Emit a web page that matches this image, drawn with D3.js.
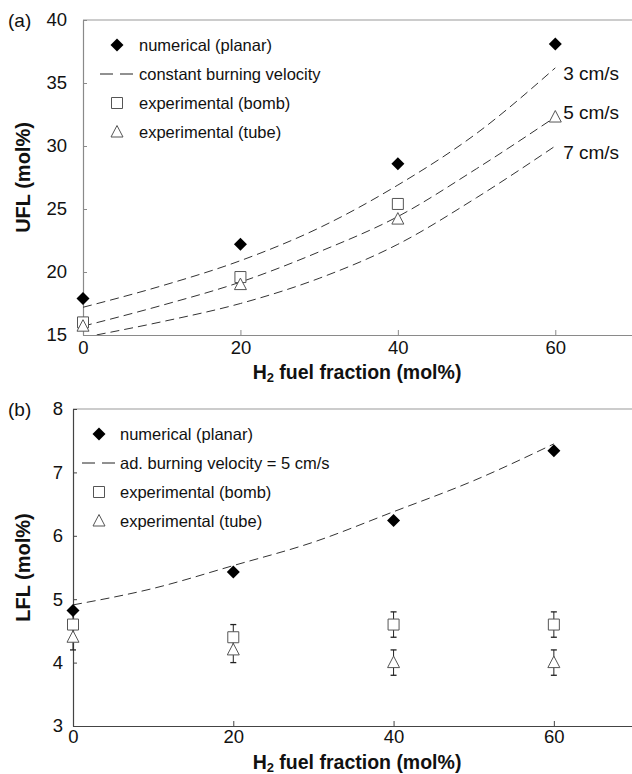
<!DOCTYPE html>
<html><head><meta charset="utf-8">
<script src="https://cdn.jsdelivr.net/npm/d3@7"></script>
<style>body{margin:0;background:#fff}svg{display:block}</style>
</head><body>
<svg id="c" width="632" height="774"></svg>
<script>
// ---------- data ----------
const xTicks = [0, 20, 40, 60];
const uflTicks = [15, 20, 25, 30, 35, 40];
const lflTicks = [3, 4, 5, 6, 7, 8];

const xPoints = [0, 20, 40, 60];
// panel (a) UFL
const uflNumerical = [17.9, 22.2, 28.6, 38.1];
const uflBombX = [0, 20, 40];
const uflBomb = [16.0, 19.6, 25.4];
const uflTube = [15.7, 19.0, 24.2, 32.3];
const curveX = [0, 10, 20, 30, 40, 50, 60];
const ufl3 = [17.2, 18.9, 20.9, 23.5, 26.9, 31.0, 36.2];
const ufl5 = [15.7, 17.35, 19.2, 21.6, 24.4, 28.2, 32.3];
const ufl7 = [14.8, 16.05, 17.5, 19.5, 22.2, 25.9, 30.0];
const curveLabels = ["3 cm/s", "5 cm/s", "7 cm/s"];
const curveLabelAt = [35.8, 32.7, 29.5];
// panel (b) LFL
const lflNumerical = [4.82, 5.43, 6.24, 7.34];
const lflCurve = [4.91, 5.17, 5.53, 5.9, 6.38, 6.87, 7.45];
const lflBomb = [4.6, 4.4, 4.6, 4.6];
const lflBombErr = [0.2, 0.2, 0.2, 0.2];
const lflTube = [4.4, 4.2, 4.0, 4.0];
const lflTubeErr = [0.2, 0.2, 0.2, 0.2];

const legendA = ["numerical (planar)", "constant burning velocity", "experimental (bomb)", "experimental (tube)"];
const legendB = ["numerical (planar)", "ad. burning velocity = 5 cm/s", "experimental (bomb)", "experimental (tube)"];

// ---------- drawing ----------
const svg = d3.select("#c");
const FONT = "Liberation Sans, Arial, Helvetica, sans-serif";
const diamond = "M0,-6.5L6.5,0L0,6.5L-6.5,0Z";
const square = "M-5.5,-5.5H5.5V5.5H-5.5Z";
const triangle = "M0,-6.5L6,5L-6,5Z";

function panel(o) {
  const g = svg.append("g");
  const x = d3.scaleLinear().domain([0, 70]).range([o.left, 634]);
  const y = d3.scaleLinear().domain(o.ydom).range([o.bottom, o.top]);
  const clipId = "clip" + o.id;
  svg.append("clipPath").attr("id", clipId).append("rect")
    .attr("x", o.left).attr("y", o.top).attr("width", 634 - o.left).attr("height", o.bottom - o.top);

  // top frame line
  g.append("line").attr("x1", o.left).attr("x2", 632).attr("y1", o.top).attr("y2", o.top)
    .attr("stroke", "#9a9a9a").attr("stroke-width", 1.2);

  // axes
  const ax = g.append("g").attr("transform", `translate(0,${o.bottom})`)
    .call(d3.axisBottom(x).tickValues(xTicks).tickFormat(d3.format("d")).tickSizeInner(-5).tickSizeOuter(0).tickPadding(o.xpad));
  const ay = g.append("g").attr("transform", `translate(${o.left},0)`)
    .call(d3.axisLeft(y).tickValues(o.yticks).tickFormat(d3.format("d")).tickSizeInner(-4).tickSizeOuter(0).tickPadding(o.ypad));
  [ax, ay].forEach(a => {
    a.select(".domain").attr("stroke", o.axisColor).attr("stroke-width", 1.2);
    a.selectAll(".tick line").attr("stroke", o.axisColor);
    a.selectAll(".tick text").attr("font-family", FONT).attr("font-size", 18.5).attr("fill", "#111");
  });
  ax.selectAll(".tick text").attr("dy", "0.71em");

  // titles
  const xt = g.append("text").attr("x", 357).attr("y", o.bottom + o.titleDy).attr("text-anchor", "middle")
    .attr("font-family", FONT).attr("font-size", 19.5).attr("font-weight", "bold").attr("fill", "#111");
  xt.append("tspan").text("H");
  xt.append("tspan").attr("font-size", 13).attr("dy", 3).text("2");
  xt.append("tspan").attr("dy", -3).text(" fuel fraction (mol%)");
  g.append("text").attr("transform", `translate(30,${(o.top + o.bottom) / 2}) rotate(-90)`)
    .attr("text-anchor", "middle").attr("font-family", FONT).attr("font-size", 20)
    .attr("font-weight", "bold").attr("fill", "#111").text(o.ytitle);
  g.append("text").attr("x", 8).attr("y", o.top + 7).attr("font-family", FONT).attr("font-size", 19)
    .attr("fill", "#111").text(o.tag);

  // legend
  const lg = g.append("g");
  o.legend.forEach((t, i) => {
    const cy = o.legY + i * 29;
    lg.append("text").attr("x", o.legText).attr("y", cy).attr("dy", "0.35em")
      .attr("font-family", FONT).attr("font-size", 16.5).attr("fill", "#111").text(t);
    if (i === 0) lg.append("path").attr("d", diamond).attr("transform", `translate(${o.legMark},${cy})`).attr("fill", "#000");
    if (i === 1) lg.append("line").attr("x1", o.legMark - 17).attr("x2", o.legMark + 16).attr("y1", cy).attr("y2", cy)
      .attr("stroke", "#222").attr("stroke-dasharray", "13,7");
    if (i === 2) lg.append("path").attr("d", square).attr("transform", `translate(${o.legMark},${cy})`)
      .attr("fill", "#fff").attr("stroke", "#555");
    if (i === 3) lg.append("path").attr("d", triangle).attr("transform", `translate(${o.legMark},${cy})`)
      .attr("fill", "#fff").attr("stroke", "#555");
  });

  return {g, x, y, clipId};
}

// ----- panel (a)
const A = panel({id: "a", left: 83, top: 20, bottom: 335, ydom: [15, 40], yticks: uflTicks, ypad: 16, xpad: 6, titleDy: 44,
  axisColor: "#8a8a8a", ytitle: "UFL (mol%)", tag: "(a)", legend: legendA, legY: 45, legMark: 117, legText: 139});

const lineA = d3.line().x((d, i) => A.x(curveX[i])).y(d => A.y(d)).curve(d3.curveMonotoneX);
const curvesG = A.g.append("g").attr("clip-path", `url(#${A.clipId})`);
[ufl3, ufl5, ufl7].forEach(s => {
  curvesG.append("path").attr("d", lineA(s)).attr("fill", "none").attr("stroke", "#333")
    .attr("stroke-width", 1).attr("stroke-dasharray", "9,5");
});
curveLabels.forEach((t, i) => {
  A.g.append("text").attr("x", A.x(61)).attr("y", A.y(curveLabelAt[i])).attr("dy", "0.35em")
    .attr("font-family", FONT).attr("font-size", 19).attr("fill", "#111").text(t);
});
A.g.selectAll(".bombA").data(uflBomb).join("path").attr("d", square)
  .attr("transform", (d, i) => `translate(${A.x(uflBombX[i])},${A.y(d)})`).attr("fill", "#fff").attr("stroke", "#555");
A.g.selectAll(".tubeA").data(uflTube).join("path").attr("d", triangle)
  .attr("transform", (d, i) => `translate(${A.x(xPoints[i])},${A.y(d)})`).attr("fill", "#fff").attr("stroke", "#555");
A.g.selectAll(".numA").data(uflNumerical).join("path").attr("d", diamond)
  .attr("transform", (d, i) => `translate(${A.x(xPoints[i])},${A.y(d)})`).attr("fill", "#000");

// ----- panel (b)
const B = panel({id: "b", left: 73, top: 409, bottom: 726, ydom: [3, 8], yticks: lflTicks, ypad: 10, xpad: 4, titleDy: 43,
  axisColor: "#444", ytitle: "LFL (mol%)", tag: "(b)", legend: legendB, legY: 434, legMark: 99, legText: 120});

const lineB = d3.line().x((d, i) => B.x(curveX[i])).y(d => B.y(d)).curve(d3.curveMonotoneX);
B.g.append("path").attr("d", lineB(lflCurve)).attr("fill", "none").attr("stroke", "#333")
  .attr("stroke-width", 1).attr("stroke-dasharray", "9,5");

function errBars(vals, errs) {
  vals.forEach((v, i) => {
    const cx = B.x(xPoints[i]);
    const y1 = B.y(v - errs[i]), y2 = B.y(v + errs[i]);
    B.g.append("line").attr("x1", cx).attr("x2", cx).attr("y1", y1).attr("y2", y2).attr("stroke", "#222");
    [y1, y2].forEach(yy => B.g.append("line").attr("x1", cx - 3).attr("x2", cx + 3).attr("y1", yy).attr("y2", yy)
      .attr("stroke", "#222").attr("stroke-width", 1.3));
  });
}
errBars(lflBomb, lflBombErr);
errBars(lflTube, lflTubeErr);
B.g.selectAll(".bombB").data(lflBomb).join("path").attr("d", square)
  .attr("transform", (d, i) => `translate(${B.x(xPoints[i])},${B.y(d)})`).attr("fill", "#fff").attr("stroke", "#555");
B.g.selectAll(".tubeB").data(lflTube).join("path").attr("d", triangle)
  .attr("transform", (d, i) => `translate(${B.x(xPoints[i])},${B.y(d)})`).attr("fill", "#fff").attr("stroke", "#555");
B.g.selectAll(".numB").data(lflNumerical).join("path").attr("d", diamond)
  .attr("transform", (d, i) => `translate(${B.x(xPoints[i])},${B.y(d)})`).attr("fill", "#000");
</script>
</body></html>
